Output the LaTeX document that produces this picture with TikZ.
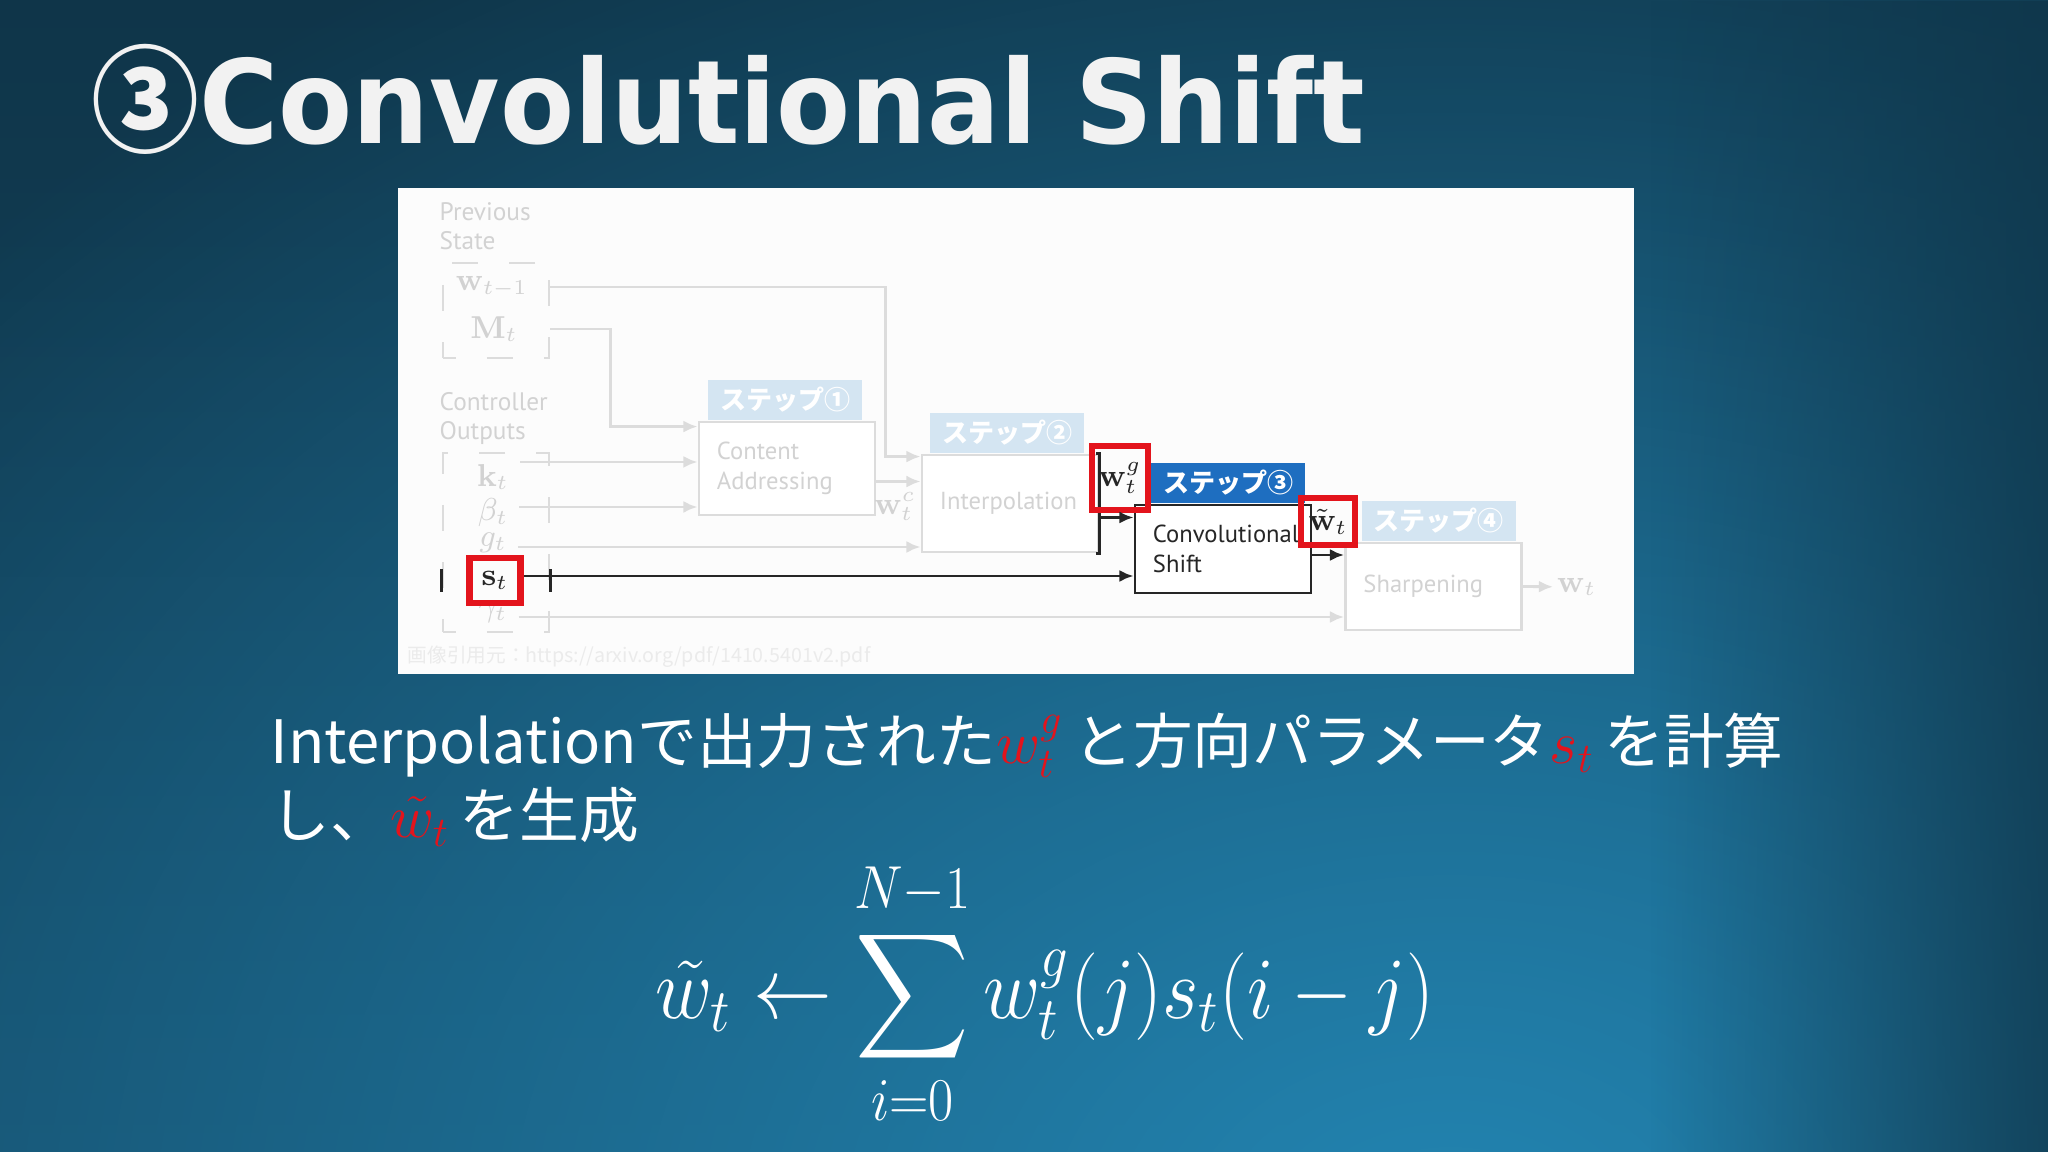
\documentclass[tikz,border=0pt]{standalone}
\usepackage{amsmath}
\usepackage[no-math]{fontspec}
\usetikzlibrary{positioning,arrows.meta,fadings}
\setmainfont{PT Sans}
\newfontfamily\titlefont{DejaVu Sans}
\newfontfamily\jpfont{Noto Sans CJK JP}

\definecolor{bgtop}{HTML}{0F3549}
\definecolor{bgbot}{HTML}{144A66}
\definecolor{bgglow}{HTML}{2385B2}
\definecolor{fadeline}{HTML}{DCDCDC}
\definecolor{fadetxt}{HTML}{D2D2D2}
\definecolor{headblue}{HTML}{D4E5F2}
\definecolor{stepblue}{HTML}{1E6EC0}
\definecolor{inkline}{HTML}{262626}
\definecolor{hlred}{HTML}{E3141C}
\definecolor{wmark}{HTML}{EBEBEB}

\tikzfading[name=glow, inner color=transparent!0, outer color=transparent!100]

\tikzset{
  fadebox/.style={draw=fadeline, line width=0.8pt, fill=white, minimum width=1.76cm,
    text width=1.4cm, align=left, text=fadetxt, font=\fontsize{7}{8.6}\selectfont},
  inkbox/.style={fadebox, draw=inkline, text=inkline},
  fadehead/.style={fill=headblue, text=white, minimum width=1.54cm, minimum height=0.4cm,
    inner sep=0pt, anchor=south west, font=\jpfont\bfseries\fontsize{7.4}{8}\selectfont},
  inkhead/.style={fadehead, fill=stepblue},
  fadelabel/.style={text=fadetxt, inner sep=1pt, font=\fontsize{9}{10}\selectfont},
  sidetext/.style={text=fadetxt, anchor=north west, align=left, inner sep=0pt,
    font=\fontsize{7.2}{8.3}\selectfont},
  redbox/.style={draw=hlred, line width=1.85pt, inner sep=0pt, text=inkline,
    font=\fontsize{9}{10}\selectfont},
  bracketbox/.style={draw=fadeline, line width=0.8pt, dash pattern=on 0.26cm off 0.31cm,
    dash phase=0.13cm, minimum width=1.06cm},
  fadearrow/.style={draw=fadeline, line width=0.8pt, -{Latex[length=4pt,width=3.4pt]}},
  inkarrow/.style={fadearrow, draw=inkline},
  inkedge/.style={draw=inkline, line width=0.8pt},
}

\begin{document}
\begin{tikzpicture}[x=0.01cm, y=-0.01cm]
    \useasboundingbox (0,0) rectangle (2048,1152);

    % background
    \begin{scope}
        \clip (0,0) rectangle (2048,1152);
        \shade[top color=bgtop, bottom color=bgbot] (0,0) rectangle (2048,1152);
        \fill[bgglow, path fading=glow] (1450,1250) ellipse [x radius=20cm, y radius=15cm];
        \fill[bgtop, path fading=west, opacity=0.75] (1650,0) rectangle (2048,1152);
    \end{scope}

    % title
    \node[anchor=base west, inner sep=0pt, text=white!95!black, xscale=0.93,
          font=\titlefont\bfseries\fontsize{33}{40}\selectfont] (title) at (91,144)
          {{\jpfont\bfseries ③}Convolutional Shift};

    % figure panel
    \fill[white!99!black] (398,188) rectangle (1634,674);

    % previous state / controller outputs
    \node[sidetext] (prevlbl) at (439,202) {Previous\\State};
    \node[bracketbox, minimum height=0.95cm] (prevbox) at (496,310.5) {};
    \node[fadelabel] (wprev) at (492,287) {$\mathbf{w}_{t-1}$};
    \node[fadelabel] (mem) at (494,329) {$\mathbf{M}_t$};

    \node[sidetext] (ctrllbl) at (439,392) {Controller\\Outputs};
    \node[bracketbox, minimum height=1.79cm] (ctrlbox) at (496,542.5) {};
    \node[fadelabel] (kt) at (493,477) {$\mathbf{k}_t$};
    \node[fadelabel] (bt) at (493,513) {$\beta_t$};
    \node[fadelabel] (gt) at (493,543) {$g_t$};
    \node[fadelabel] (gmt) at (493,613) {$\gamma_t$};
    \node[redbox, minimum width=0.51cm, minimum height=0.45cm] (st) at (495,580.5) {$\mathbf{s}_t$};

    % steps
    \node[fadebox, minimum height=0.93cm] (cabox) at (787,468.5) {Content\\Addressing};
    \node[fadehead] (cahead) at ([xshift=0.1cm]cabox.north west) {ステップ①};
    \node[fadebox, minimum height=0.97cm] (ipbox) at (1010,503.5) {Interpolation};
    \node[fadehead] (iphead) at ([xshift=0.09cm]ipbox.north west) {ステップ②};
    \node[inkbox, minimum height=0.88cm] (csbox) at (1223,549) {Convolutional\\Shift};
    \node[inkhead] (cshead) at ([xshift=0.17cm]csbox.north west) {ステップ③};
    \node[fadebox, minimum height=0.87cm] (shbox) at (1433.5,586.5) {Sharpening};
    \node[fadehead] (shhead) at ([xshift=0.17cm]shbox.north west) {ステップ④};

    \node[fadelabel] (wc) at (895,506) {$\mathbf{w}_t^c$};
    \node[fadelabel, anchor=west] (wout) at (1553,587) {$\mathbf{w}_t$};

    % faded connectors
    \draw[fadearrow] (prevbox.east |- wprev) -| ([xshift=-0.35cm,yshift=-0.03cm]ipbox.north west)
        -- ([yshift=-0.03cm]ipbox.north west);
    \draw[fadearrow] (prevbox.east |- mem) -| ([xshift=-0.87cm,yshift=-0.06cm]cabox.north west)
        -- ([yshift=-0.06cm]cabox.north west);
    \draw[fadearrow] ([xshift=0.07cm,yshift=0.15cm]kt.east) coordinate (kin) -- (cabox.west |- kin);
    \draw[fadearrow] ([xshift=0.07cm,yshift=0.06cm]bt.east) coordinate (bin) -- (cabox.west |- bin);
    \draw[fadearrow] ([xshift=0.07cm,yshift=-0.04cm]gt.east) coordinate (gin) -- (ipbox.west |- gin);
    \draw[fadearrow] ([xshift=0.07cm,yshift=-0.04cm]gmt.east) coordinate (gmin) -- (shbox.west |- gmin);
    \draw[fadearrow] ([yshift=-0.13cm]cabox.east) coordinate (caout) -- (ipbox.west |- caout);
    \draw[fadearrow] (shbox.east) -- (wout);

    % highlighted path
    \draw[inkedge] (ctrlbox.west |- st) ++(0,-11) -- ++(0,23);
    \draw[inkedge] (ctrlbox.east |- st) ++(0,-11) -- ++(0,23);
    \draw[inkarrow] ([yshift=0.045cm]st.east) coordinate (sout) -- (csbox.west |- sout);
    \draw[inkedge] ([xshift=-0.03cm]ipbox.north east) -- (ipbox.north east) -- (ipbox.south east)
        -- ([xshift=-0.03cm]ipbox.south east);
    \node[redbox, minimum width=0.56cm, minimum height=0.64cm] (wg) at (1120,478) {$\mathbf{w}_t^g$};
    \draw[inkarrow] ([yshift=-0.14cm]ipbox.east) coordinate (ipout) -- (csbox.west |- ipout);
    \node[redbox, minimum width=0.54cm, minimum height=0.47cm] (wtil) at (1328,521.5) {$\tilde{\mathbf{w}}_t$};
    \draw[inkarrow] ([yshift=-0.06cm]csbox.east) coordinate (csout) -- (shbox.west |- csout);

    \node[anchor=west, inner sep=0pt, text=wmark, font=\jpfont\fontsize{5.6}{6}\selectfont] (credit)
        at (407,657) {画像引用元：https://arxiv.org/pdf/1410.5401v2.pdf};

    % explanation
    \node[anchor=base west, inner sep=0pt, text=white, font=\jpfont\fontsize{17}{21}\selectfont] (desc1)
        at (270,763) {Interpolationで出力された$\color{hlred}w_t^g$\,と方向パラメータ$\color{hlred}s_t$\,を計算};
    \node[anchor=base west, inner sep=0pt, text=white, font=\jpfont\fontsize{17}{21}\selectfont] (desc2)
        at (270,837) {し、$\color{hlred}\tilde{w}_t$\,を生成};

    % formula
    \node[inner sep=0pt, text=white, font=\fontsize{25}{30}\selectfont, xscale=0.9] (formula) at (1045,994)
        {$\displaystyle \tilde{w}_t \leftarrow \sum_{i=0}^{N-1} w_t^g(j)s_t(i-j)$};
\end{tikzpicture}
\end{document}
